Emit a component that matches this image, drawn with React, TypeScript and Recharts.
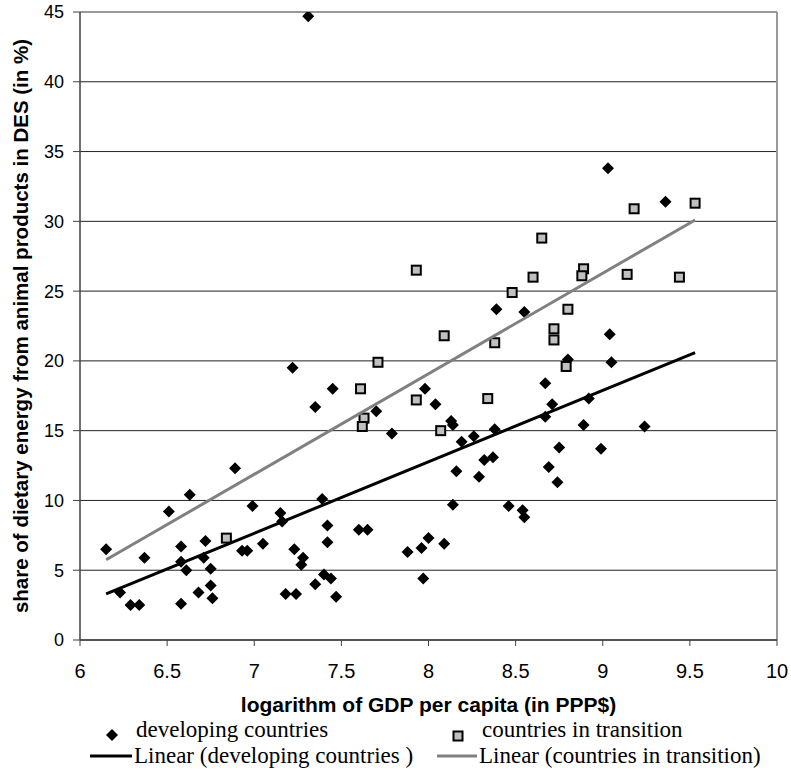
import React from "react";
import {
  ScatterChart,
  Scatter,
  XAxis,
  YAxis,
  CartesianGrid,
  ReferenceLine,
} from "recharts";

// GDP (log, PPP$) vs share of animal products in dietary energy (%)
const developingX = [
  6.15, 6.23, 6.29, 6.34, 6.37, 6.51, 6.63, 6.58, 6.58, 6.61, 6.58, 6.68, 6.72, 6.71, 6.75, 6.75, 6.76,
  6.89, 6.93, 6.96, 6.99, 7.05, 7.15, 7.16, 7.22, 7.23, 7.18, 7.24, 7.35, 7.45, 7.70, 7.79, 7.98, 8.04,
  8.13, 8.14, 8.19, 8.26, 8.38, 8.32, 8.37, 8.16, 8.29, 7.39, 8.14, 8.46, 8.54, 8.55, 7.42, 7.42, 7.60,
  7.65, 7.28, 7.27, 7.88, 7.96, 8.00, 8.09, 7.40, 7.44, 7.35, 7.47, 7.97, 7.31, 9.03, 9.36, 8.55, 8.39,
  9.04, 9.05, 8.80, 8.67, 8.71, 8.92, 8.67, 8.89, 9.24, 8.75, 8.99, 8.69, 8.74,
];
const developingY = [
  6.5, 3.4, 2.5, 2.5, 5.9, 9.2, 10.4, 6.7, 5.6, 5.0, 2.6, 3.4, 7.1, 5.9, 5.1, 3.9, 3.0,
  12.3, 6.4, 6.4, 9.6, 6.9, 9.1, 8.5, 19.5, 6.5, 3.3, 3.3, 16.7, 18.0, 16.4, 14.8, 18.0, 16.9,
  15.7, 15.4, 14.2, 14.6, 15.1, 12.9, 13.1, 12.1, 11.7, 10.1, 9.7, 9.6, 9.3, 8.8, 8.2, 7.0, 7.9,
  7.9, 5.9, 5.4, 6.3, 6.6, 7.3, 6.9, 4.7, 4.4, 4.0, 3.1, 4.4, 44.7, 33.8, 31.4, 23.5, 23.7,
  21.9, 19.9, 20.1, 18.4, 16.9, 17.3, 16.0, 15.4, 15.3, 13.8, 13.7, 12.4, 11.3,
];

const transitionX = [
  6.84, 8.09, 8.38, 7.71, 7.61, 7.93, 8.34, 7.63, 7.62, 8.07, 7.93, 8.48, 8.65, 9.18, 9.53, 8.60,
  8.89, 8.88, 9.14, 9.44, 8.80, 8.72, 8.72, 8.79,
];
const transitionY = [
  7.3, 21.8, 21.3, 19.9, 18.0, 17.2, 17.3, 15.9, 15.3, 15.0, 26.5, 24.9, 28.8, 30.9, 31.3, 26.0,
  26.6, 26.1, 26.2, 26.0, 23.7, 22.3, 21.5, 19.6,
];

// linear trend lines, end points as in the source
const trendDevX = [6.15, 9.53];
const trendDevY = [3.3, 20.6];
const trendTransX = [6.15, 9.53];
const trendTransY = [5.75, 30.1];

const xTicks = [6, 6.5, 7, 7.5, 8, 8.5, 9, 9.5, 10];
const yTicks = [0, 5, 10, 15, 20, 25, 30, 35, 40, 45];

const zip = (xs: number[], ys: number[]) => xs.map((x, i) => ({ x, y: ys[i] }));

const developing = zip(developingX, developingY);
const transition = zip(transitionX, transitionY);
const trendDev = zip(trendDevX, trendDevY);
const trendTrans = zip(trendTransX, trendTransY);

const SANS = "Arial, 'Liberation Sans', sans-serif";
const SERIF = "'Times New Roman', 'Liberation Serif', serif";

function Diamond({ cx, cy }: { cx?: number; cy?: number }) {
  if (cx == null || cy == null) return <g />;
  const r = 6;
  return <path d={`M${cx},${cy - r}L${cx + r},${cy}L${cx},${cy + r}L${cx - r},${cy}Z`} fill="#000" />;
}

function Square({ cx, cy }: { cx?: number; cy?: number }) {
  if (cx == null || cy == null) return <g />;
  return <rect x={cx - 4.5} y={cy - 4.5} width={9} height={9} fill="#c0c0c0" stroke="#000" strokeWidth={2} />;
}

const NoDot = () => <g />;

function XTitle({ viewBox }: any) {
  const vb = viewBox || { x: 0, y: 0, width: 0 };
  return (
    <text
      x={vb.x + vb.width / 2}
      y={vb.y + 72}
      textAnchor="middle"
      fontFamily={SANS}
      fontWeight="bold"
      fontSize={21}
      fill="#000"
    >
      logarithm of GDP per capita (in PPP$)
    </text>
  );
}

function YTitle({ viewBox }: any) {
  const vb = viewBox || { x: 0, y: 0, height: 0 };
  const cy = vb.y + vb.height / 2;
  return (
    <text
      x={20}
      y={cy}
      transform={`rotate(-90, 20, ${cy})`}
      textAnchor="middle"
      dominantBaseline="central"
      fontFamily={SANS}
      fontWeight="bold"
      fontSize={20.5}
      fill="#000"
    >
      share of dietary energy from animal products in DES (in %)
    </text>
  );
}

function LegendBox() {
  return (
    <svg width={791} height={80} style={{ position: "absolute", left: 0, top: 700 }}>
      <g fontFamily={SERIF} fontSize={23} fill="#000">
        <Diamond cx={112} cy={35} />
        <text x={136} y={37}>developing countries</text>
        <Square cx={458} cy={36} />
        <text x={482} y={37}>countries in transition</text>
        <line x1={90} x2={132} y1={56} y2={56} stroke="#000" strokeWidth={3} />
        <text x={134} y={63}>Linear (developing countries )</text>
        <line x1={437} x2={477} y1={56} y2={56} stroke="#808080" strokeWidth={3} />
        <text x={479} y={63}>Linear (countries in transition)</text>
      </g>
    </svg>
  );
}

export default function App() {
  return (
    <div style={{ position: "absolute", left: 0, top: 0, width: 791, height: 780, background: "#fff" }}>
      <ScatterChart width={791} height={780} margin={{ top: 12, right: 14, bottom: 80, left: 0 }}>
        <CartesianGrid vertical={false} stroke="#222" strokeWidth={1} />
        <XAxis
          type="number"
          dataKey="x"
          domain={[6, 10]}
          ticks={xTicks}
          allowDataOverflow
          height={60}
          tickSize={6}
          tickMargin={18}
          tick={{ fontSize: 20, fill: "#000", fontFamily: SANS }}
          axisLine={{ stroke: "#404040", strokeWidth: 1.5 }}
          tickLine={{ stroke: "#404040" }}
          label={<XTitle />}
        />
        <YAxis
          type="number"
          dataKey="y"
          domain={[0, 45]}
          ticks={yTicks}
          allowDataOverflow
          width={80}
          tickSize={7}
          tickMargin={9}
          tick={{ fontSize: 18, fill: "#000", fontFamily: SANS }}
          axisLine={{ stroke: "#404040", strokeWidth: 1.5 }}
          tickLine={{ stroke: "#404040" }}
          label={<YTitle />}
        />
        <ReferenceLine y={45} stroke="#999" strokeWidth={2} />
        <ReferenceLine x={10} stroke="#999" strokeWidth={2} />
        <Scatter name="developing countries" data={developing} shape={<Diamond />} isAnimationActive={false} />
        <Scatter name="countries in transition" data={transition} shape={<Square />} isAnimationActive={false} />
        <Scatter
          name="Linear (developing countries )"
          data={trendDev}
          line={{ stroke: "#000", strokeWidth: 3 }}
          shape={<NoDot />}
          isAnimationActive={false}
        />
        <Scatter
          name="Linear (countries in transition)"
          data={trendTrans}
          line={{ stroke: "#808080", strokeWidth: 3 }}
          shape={<NoDot />}
          isAnimationActive={false}
        />
      </ScatterChart>
      <LegendBox />
    </div>
  );
}
